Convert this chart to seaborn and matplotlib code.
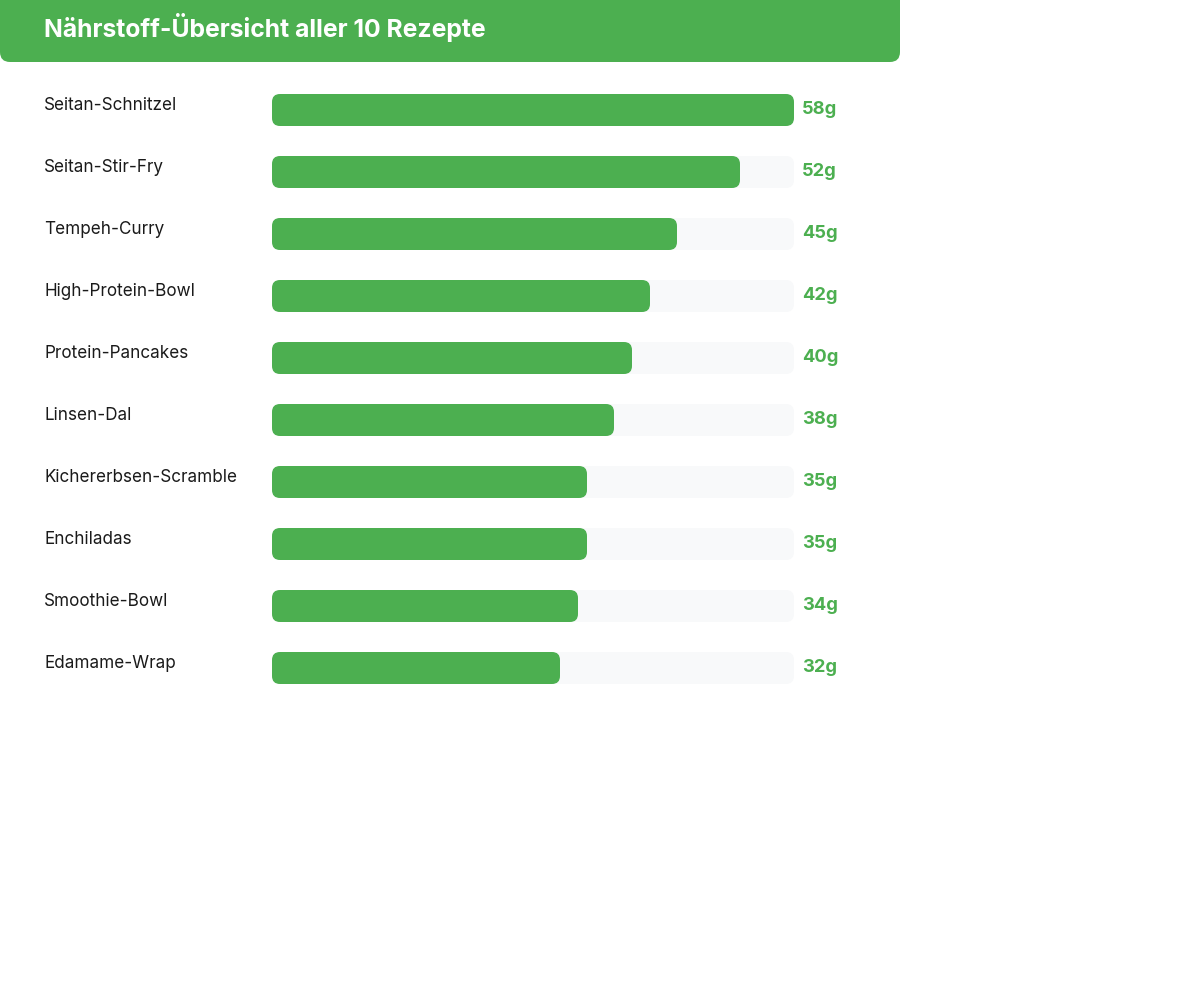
import matplotlib
matplotlib.use("Agg")
import matplotlib.pyplot as plt
from matplotlib.patches import FancyBboxPatch
import matplotlib.transforms as mtrans
import seaborn as sns
import pandas as pd

recipes = ["Seitan-Schnitzel", "Seitan-Stir-Fry", "Tempeh-Curry", "High-Protein-Bowl",
           "Protein-Pancakes", "Linsen-Dal", "Kichererbsen-Scramble", "Enchiladas",
           "Smoothie-Bowl", "Edamame-Wrap"]
protein = [58, 52, 45, 42, 40, 38, 35, 35, 34, 32]
value_labels = [f"{v}g" for v in protein]
title = "Nährstoff-Übersicht aller 10 Rezepte"

GREEN = "#4CAF50"
TRACK = "#F8F9FA"
TEXT = "#1a1a1a"

sns.set_theme(style="white")
plt.rcParams["font.family"] = ["Inter", "DejaVu Sans"]

W, H = 1200, 983
fig = plt.figure(figsize=(W / 100, H / 100), dpi=100)
fig.patch.set_facecolor("white")

# header band
hdr = FancyBboxPatch((0, 1 - 62 / H), 900 / W, 62 / H + 0.02,
                     boxstyle="round,pad=0,rounding_size=%f" % (10 / W),
                     mutation_aspect=(W / H),
                     transform=fig.transFigure, facecolor=GREEN, edgecolor="none",
                     zorder=0)
fig.patches.append(hdr)
fig.text(44 / W, 1 - 28 / H, title, color="white", fontsize=17.8, fontweight="bold",
         va="center", ha="left")

vmax = max(protein)
x0, x1 = 272, 794
row = 62
top = 110 - row / 2
bottom = 668 + row / 2
ax = fig.add_axes([x0 / W, 1 - bottom / H, (x1 - x0) / W, (bottom - top) / H])

df = pd.DataFrame({"recipe": recipes, "protein": protein, "track": [vmax] * len(protein)})
bh = 32 / row
sns.barplot(data=df, y="recipe", x="track", color=TRACK, width=bh, ax=ax,
            saturation=1, orient="h")
sns.barplot(data=df, y="recipe", x="protein", color=GREEN, width=bh, ax=ax,
            saturation=1, orient="h")

ax.set_xlim(0, vmax)
ax.set_ylim(len(recipes) - 0.5, -0.5)

# replace rectangles by rounded boxes
px_per_x = (x1 - x0) / vmax
r_px = 8
rx = r_px / px_per_x
ry = r_px / row
for p in list(ax.patches):
    x, y = p.get_x(), p.get_y()
    w, h = p.get_width(), p.get_height()
    fc = p.get_facecolor()
    p.set_visible(False)
    fb = FancyBboxPatch((x, y), w, h,
                        boxstyle="round,pad=0,rounding_size=%f" % rx,
                        mutation_aspect=ry / rx,
                        facecolor=fc, edgecolor="none", zorder=p.get_zorder())
    ax.add_patch(fb)

for s in ax.spines.values():
    s.set_visible(False)
ax.set_xticks([])
ax.set_yticks([])
ax.set_xlabel("")
ax.set_ylabel("")
ax.set_facecolor("none")

blend = mtrans.blended_transform_factory(fig.transFigure, ax.transData)
for i, (name, lab) in enumerate(zip(recipes, value_labels)):
    ax.text(44 / W, i - 4.5 / row, name, transform=blend, ha="left", va="center",
            fontsize=12.3, color=TEXT)
    ax.text(vmax + 8 / px_per_x, i - 0.5 / row, lab, ha="left", va="center",
            fontsize=13.2, fontweight="bold", color=GREEN, clip_on=False)

fig.savefig("out.png", dpi=100)
